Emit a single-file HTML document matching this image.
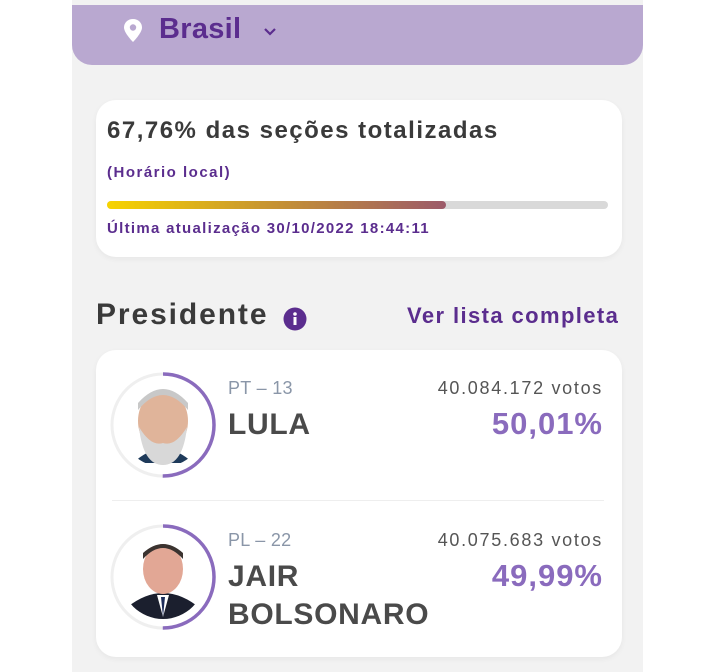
<!DOCTYPE html>
<html><head><meta charset="utf-8">
<style>
body{margin:0;width:725px;height:672px;background:#fff;font-family:"Liberation Sans",sans-serif;position:relative;overflow:hidden}
.abs{position:absolute;white-space:nowrap}
#col{left:72px;top:0;width:571px;height:672px;background:#f2f2f2}
#hdr{left:72px;top:5px;width:571px;height:60px;background:#b9a8d0;border-radius:0 0 20px 20px}
.card{background:#fff;border-radius:20px;box-shadow:0 2px 6px rgba(0,0,0,0.05)}
.pur{color:#5b2d8e}
.b{font-weight:bold}
</style></head><body>
<div class="abs" id="col"></div>
<div class="abs" id="hdr"></div>
<svg class="abs" style="left:122px;top:18px" width="22" height="26"><path d="M11 1C5.5 1 2 5 2 9.5 2 15 11 24 11 24S20 15 20 9.5C20 5 16.5 1 11 1Z" fill="#fff"/><circle cx="11" cy="9.5" r="3.2" fill="#b9a8d0"/></svg>
<div class="abs pur b" style="left:159px;top:13px;font-size:29px;letter-spacing:0.3px">Brasil</div>
<svg class="abs" style="left:263px;top:27px" width="14" height="10"><path d="M2 2L7 7 12 2" stroke="#5b2d8e" stroke-width="2.2" fill="none"/></svg>

<div class="abs card" style="left:96px;top:100px;width:526px;height:157px"></div>
<div class="abs b" style="left:107px;top:117px;font-size:24px;letter-spacing:1.5px;color:#3a3a3a">67,76% das seções totalizadas</div>
<div class="abs pur b" style="left:107px;top:164px;font-size:15px;letter-spacing:1.5px">(Horário local)</div>
<div class="abs" style="left:107px;top:201px;width:501px;height:8px;background:#d9d9d9;border-radius:4px"></div>
<div class="abs" id="pfill" style="left:107px;top:201px;height:8px;border-radius:4px;background:linear-gradient(90deg,#f7d400,#c9972e 45%,#9c5a6a)"></div>
<div class="abs pur b" style="left:107px;top:220px;font-size:15px;letter-spacing:1.3px">Última atualização 30/10/2022 18:44:11</div>

<div class="abs b" style="left:96px;top:298px;font-size:30px;letter-spacing:1.9px;color:#3a3a3a">Presidente</div>
<svg class="abs" style="left:283px;top:307px" width="24" height="24"><circle cx="12" cy="12" r="11.5" fill="#5b2d8e"/><circle cx="12" cy="7" r="1.8" fill="#fff"/><rect x="10.5" y="10" width="3" height="8" fill="#fff"/></svg>
<div class="abs pur b" style="left:407px;top:303px;font-size:22px;letter-spacing:1.4px">Ver lista completa</div>

<div class="abs card" style="left:96px;top:350px;width:526px;height:307px"></div>
<div class="abs" style="left:112px;top:500px;width:492px;height:1px;background:#eee"></div>
<div id="rows"></div>

<script>
const names=["LULA","JAIR<br>BOLSONARO"];
const parties=["PT – 13","PL – 22"];
const votes=["40.084.172 votos","40.075.683 votos"];
const pcts=[50.01,49.99];
const pctLabels=["50,01%","49,99%"];
const sectionsPct=67.76;

document.getElementById('pfill').style.width=(501*sectionsPct/100)+'px';
const rows=document.getElementById('rows');
const tops=[350,502];
names.forEach((n,i)=>{
  const t=tops[i];
  const cy=t+75, cx=163, r=51;
  const circ=2*Math.PI*r;
  const d=document.createElement('div');
  
  
  const photo=i===0?
   `<circle cx="60" cy="60" r="42" fill="#fff"/><path d="M30 98 Q60 70 90 98Z" fill="#1e3a5a"/><ellipse cx="60" cy="56" rx="25" ry="31" fill="#e0b49a"/><path d="M35 45 Q60 15 85 45 L85 38 Q60 10 35 38Z" fill="#c8c8c8"/><path d="M36 62 Q40 100 60 100 Q80 100 84 62 Q72 82 60 78 Q48 82 36 62Z" fill="#d8d8d8"/>`:
   `<circle cx="60" cy="60" r="42" fill="#fff"/><path d="M22 92 Q60 60 98 92 L90 102 L30 102Z" fill="#1b1f2e"/><path d="M54 78 L60 100 L66 78Z" fill="#fff"/><path d="M58 80 L60 100 L62 80Z" fill="#1d2c5a"/><ellipse cx="60" cy="52" rx="20" ry="25" fill="#e2a795"/><path d="M40 42 Q60 20 80 42 L80 36 Q60 18 40 36Z" fill="#3b3330"/>`;
  const arcLen=circ*pcts[i]/100;
  d.innerHTML=`<svg class="abs" style="left:${cx-60}px;top:${cy-60}px" width="120" height="120">
   <defs><clipPath id="c${i}"><circle cx="60" cy="60" r="42"/></clipPath></defs>
   <circle cx="60" cy="60" r="${r}" fill="none" stroke="#efefef" stroke-width="3"/>
   <circle cx="60" cy="60" r="${r}" fill="none" stroke="#8a6bbd" stroke-width="3.5" stroke-dasharray="${arcLen} ${circ}" transform="rotate(-90 60 60)"/>
   <g clip-path="url(#c${i})">${photo}</g></svg>
   <div class="abs" style="left:228px;top:${t+28}px;font-size:18px;letter-spacing:0.3px;color:#8a96a8">${parties[i]}</div>
   <div class="abs b" style="left:228px;top:${t+56}px;font-size:30px;line-height:38px;letter-spacing:0.7px;color:#4a4a4a">${n}</div>
   <div class="abs" style="right:122px;top:${t+28}px;font-size:18px;letter-spacing:1.7px;color:#555">${votes[i]}</div>
   <div class="abs b" style="right:122px;top:${t+56}px;font-size:31px;letter-spacing:1px;color:#8a6bbd">${pctLabels[i]}</div>`;
  rows.appendChild(d);
});
</script>
</body></html>
